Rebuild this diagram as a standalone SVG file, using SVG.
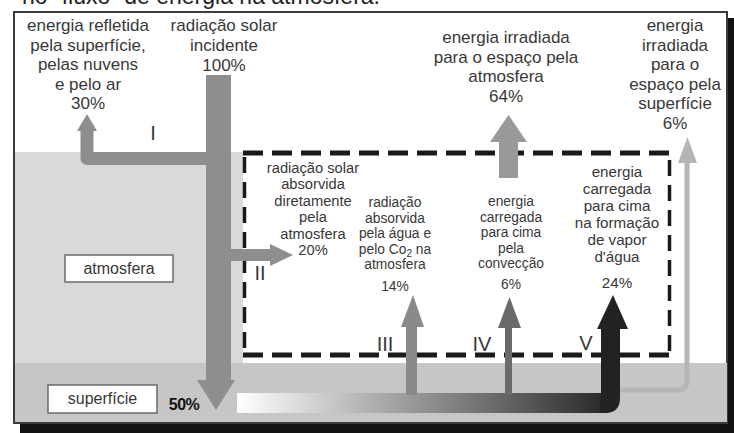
<svg xmlns="http://www.w3.org/2000/svg" width="734" height="433" viewBox="0 0 734 433">
<defs>
<style>
text{font-family:"Liberation Sans",Arial,sans-serif;fill:#383838;text-anchor:middle}
.l{font-size:17px}
.v{font-size:15.2px}
.m{font-size:14.7px}
.s{font-size:13.8px}
.n{font-size:20px;fill:#4e4e66}
.box{fill:#fff;stroke:#6a6a6a;stroke-width:1.5}
.dh{stroke:#1a1a1a;stroke-width:5;stroke-dasharray:20 9;fill:none}
.dv{stroke:#1a1a1a;stroke-width:3.5;stroke-dasharray:16 9;fill:none}
</style>
<linearGradient id="g" gradientUnits="userSpaceOnUse" x1="237" y1="0" x2="605" y2="0">
<stop offset="0" stop-color="#ffffff"/>
<stop offset="0.4" stop-color="#a8a8a8"/>
<stop offset="0.7" stop-color="#6a6a6a"/>
<stop offset="1" stop-color="#2a2a2a"/>
</linearGradient>
</defs>
<g id="title"><text x="22" y="4" style="font-size:23px;text-anchor:start;fill:#222">no “fluxo” de energia na atmosfera.</text></g>
<g id="frame">
<rect x="20" y="18" width="714" height="415" fill="#111"/>
<rect x="14" y="12" width="713" height="411" fill="#fff" stroke="#3a3a3a" stroke-width="2"/>
<rect x="15" y="152" width="228" height="211" fill="#d9d9d9"/>
<rect x="15" y="363" width="712" height="59" fill="#c6c6c6"/>
</g>
<g id="dashed-box">
<path class="dh" d="M243 153H672"/>
<path class="dh" d="M243 355H670"/>
<path class="dv" d="M244.5 157V355"/>
<path class="dv" d="M669.5 160V355"/>
</g>
<g id="connectors">
<path d="M210 158.5H87V128" stroke="#8e8e8e" stroke-width="13" fill="none" stroke-linejoin="round"/>
<polygon points="77,131 97,131 87,114" fill="#8e8e8e"/>
<rect x="206" y="75" width="25" height="307" fill="#8e8e8e"/>
<polygon points="197,380 235,380 216,410" fill="#8e8e8e"/>
<path d="M226 255H272" stroke="#8e8e8e" stroke-width="12" fill="none"/>
<polygon points="270,244 270,266 293,255" fill="#8e8e8e"/>
<rect x="237" y="393" width="370" height="20" fill="url(#g)"/>
<rect x="406" y="324" width="11" height="71" fill="#8a8a8a"/>
<polygon points="401,327 424,327 413,295" fill="#8a8a8a"/>
<rect x="505" y="326" width="7" height="69" fill="#6a6a6a"/>
<polygon points="498,328 521,328 509.5,297" fill="#6a6a6a"/>
<path d="M612 390H677Q687 390 687 380V160" stroke="#b5b5b5" stroke-width="5" fill="none"/>
<polygon points="678,163 697,163 687.5,137" fill="#b5b5b5"/>
<path d="M601 395V327H620V398Q620 413 605 413H600Z" fill="#222"/>
<polygon points="597,329 628,329 613,295" fill="#222"/>
<rect x="499" y="140" width="19" height="38" fill="#999"/>
<polygon points="490,142 527,142 508.5,115" fill="#999"/>
</g>
<g id="label-reflected" class="l">
<text x="88" y="31">energia refletida</text>
<text x="88" y="50.5">pela superfície,</text>
<text x="88" y="70">pelas nuvens</text>
<text x="88" y="89.5">e pelo ar</text>
<text x="88" y="109">30%</text>
</g>
<g id="label-incident" class="l">
<text x="224" y="31">radiação solar</text>
<text x="224" y="51">incidente</text>
<text x="224" y="70.5">100%</text>
</g>
<g id="label-space-atm" class="l">
<text x="506" y="43">energia irradiada</text>
<text x="506" y="62.5">para o espaço pela</text>
<text x="506" y="82">atmosfera</text>
<text x="506" y="101.5">64%</text>
</g>
<g id="label-space-surf" class="l">
<text x="675" y="31">energia</text>
<text x="675" y="50.5">irradiada</text>
<text x="675" y="70">para o</text>
<text x="675" y="89.5">espaço pela</text>
<text x="675" y="109">superfície</text>
<text x="675" y="128.5">6%</text>
</g>
<g id="label-II" class="m">
<text x="313" y="173">radiação solar</text>
<text x="313" y="189.4">absorvida</text>
<text x="313" y="205.8">diretamente</text>
<text x="313" y="222.2">pela</text>
<text x="313" y="238.6">atmosfera</text>
<text x="313" y="255">20%</text>
</g>
<g id="label-III" class="s">
<text x="395" y="207">radiação</text>
<text x="395" y="222.5">absorvida</text>
<text x="395" y="238">pela água e</text>
<text x="395" y="253.5">pelo Co<tspan font-size="10" dy="3">2</tspan><tspan dy="-3"> na</tspan></text>
<text x="395" y="269">atmosfera</text>
<text x="395" y="291">14%</text>
</g>
<g id="label-IV" class="s">
<text x="511" y="206">energia</text>
<text x="511" y="221.5">carregada</text>
<text x="511" y="237">para cima</text>
<text x="511" y="252.5">pela</text>
<text x="511" y="268">convecção</text>
<text x="511" y="289">6%</text>
</g>
<g id="label-V" class="v">
<text x="617" y="177">energia</text>
<text x="617" y="194">carregada</text>
<text x="617" y="211">para cima</text>
<text x="617" y="228">na formação</text>
<text x="617" y="245">de vapor</text>
<text x="617" y="262">d'água</text>
<text x="617" y="288">24%</text>
</g>
<g id="numerals" class="n">
<text x="153" y="140">I</text>
<text x="260" y="280">II</text>
<text x="385" y="351">III</text>
<text x="482" y="351">IV</text>
<text x="586" y="350">V</text>
</g>
<g id="atmosfera">
<rect class="box" x="65" y="255" width="108" height="27"/>
<text class="l" style="font-size:16px" x="119" y="274">atmosfera</text>
</g>
<g id="superficie">
<rect class="box" x="48" y="385" width="109" height="28"/>
<text style="font-size:16px" x="102.5" y="404">superfície</text>
<text x="184" y="410" style="font-size:16px;font-weight:bold;fill:#111;letter-spacing:-0.5px">50%</text>
</g>
</svg>
